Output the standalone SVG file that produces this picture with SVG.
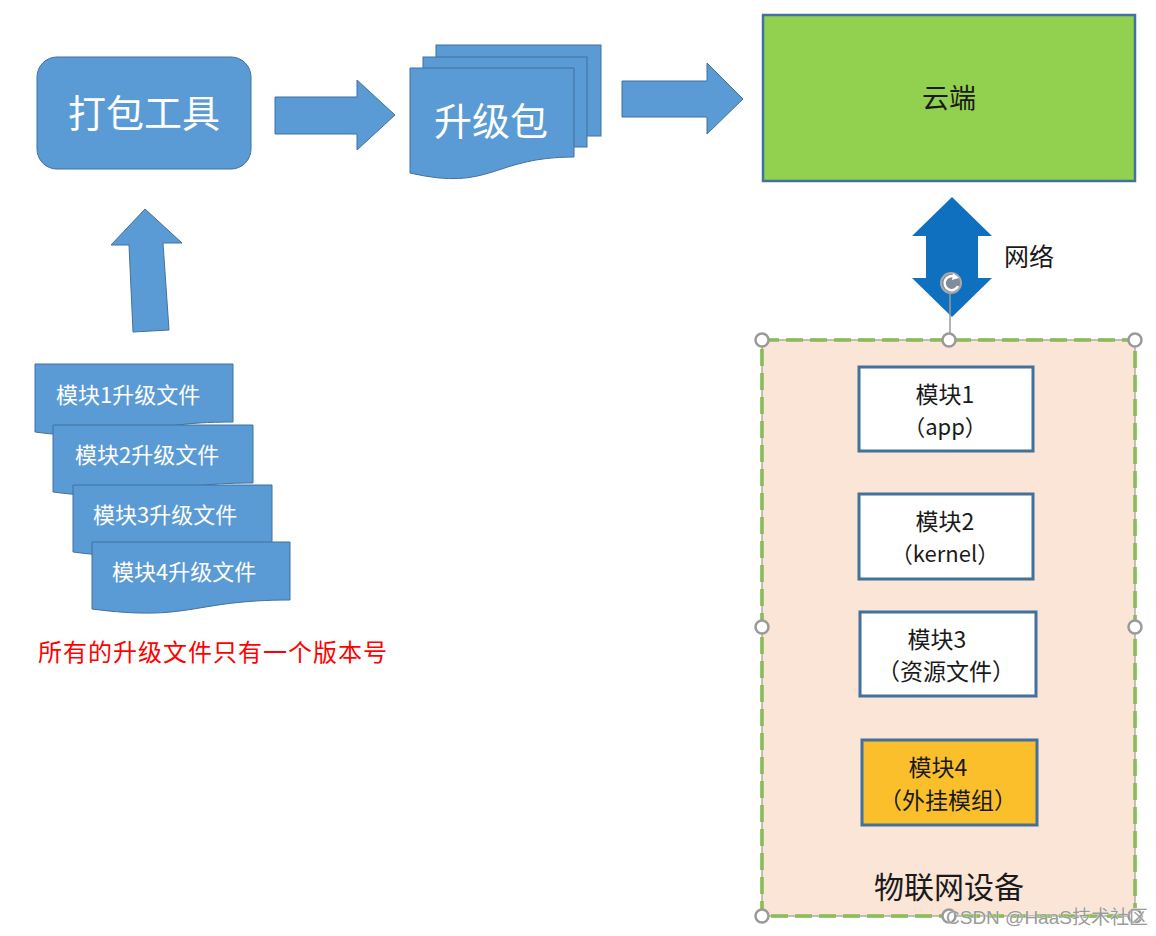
<svg xmlns="http://www.w3.org/2000/svg" width="1156" height="936" viewBox="0 0 1156 936">
<style>
.blue{fill:#5B9BD5;stroke:#41719C;stroke-width:1}
.wt{fill:#FFFFFF;font-family:"Noto Sans CJK SC","Noto Sans",sans-serif}
.bk{fill:#1a1a1a;font-family:"Noto Sans CJK SC","Noto Sans",sans-serif}
.mod{fill:#FFFFFF;stroke:#41719C;stroke-width:3}
.handle{fill:#FFFFFF;stroke:#9A9A9A;stroke-width:2.5}
</style>
<rect width="1156" height="936" fill="#FFFFFF"/>

<g id="connectors">
  <path class="blue" d="M275,97 H357 V80 L395,115 L357,150 V134 H275 Z"/>
  <path class="blue" d="M622,81 H707 V63 L743,99 L707,134 V117 H622 Z"/>
  <path class="blue" d="M133,332 L129,245 L111,245 L145,209 L182,243 L163,243 L169,330 Z"/>
  <path fill="#1070C0" d="M952,197 L992,236 L978,236 L978,278 L992,278 L952,317 L912,278 L926,278 L926,236 L912,236 Z"/>
  <text class="bk" x="1004" y="266" font-size="25">网络</text>
</g>

<g id="tool">
  <rect class="blue" x="37" y="57" width="214" height="112" rx="20"/>
  <text class="wt" x="144" y="127" font-size="38" text-anchor="middle">打包工具</text>
</g>

<g id="package">
  <rect class="blue" x="436" y="45" width="165" height="91"/>
  <rect class="blue" x="423" y="57" width="164" height="90"/>
  <path class="blue" d="M410,68 H574 V157 C492,157 492,192 410,173 Z"/>
  <text class="wt" x="491" y="135" font-size="38" text-anchor="middle">升级包</text>
</g>

<g id="cloud">
  <rect x="763" y="15" width="372" height="166" fill="#92D050" stroke="#41719C" stroke-width="2.5"/>
  <text class="bk" x="949" y="108" font-size="27" text-anchor="middle">云端</text>
</g>

<g id="files">
  <path class="blue" d="M35,364 H233 V422 C134,422 134,445 35,432 Z"/>
  <text class="wt" x="56" y="403" font-size="22">模块1升级文件</text>
  <path class="blue" d="M53,425 H253 V483 C153,483 153,505 53,492 Z"/>
  <text class="wt" x="75" y="463" font-size="22">模块2升级文件</text>
  <path class="blue" d="M73,485 H272 V543 C172,543 172,565 73,552 Z"/>
  <text class="wt" x="93" y="523" font-size="22">模块3升级文件</text>
  <path class="blue" d="M92,542 H290 V600 C191,600 191,622 92,609 Z"/>
  <text class="wt" x="112" y="580" font-size="22">模块4升级文件</text>
</g>

<g id="note">
  <text x="38" y="661" font-size="24" fill="#FF0000" font-family="Noto Sans CJK SC, sans-serif" textLength="349">所有的升级文件只有一个版本号</text>
</g>

<g id="device">
  <rect x="762" y="340" width="373" height="576" fill="#FBE5D6"/>
  <rect x="762" y="340" width="373" height="576" fill="none" stroke="#92D050" stroke-width="4" stroke-dasharray="17 7"/>
  <rect x="762" y="340" width="373" height="576" fill="none" stroke="#999999" stroke-width="1.2"/>
  <text class="bk" x="949" y="898" font-size="30" text-anchor="middle" fill="#333333">物联网设备</text>
</g>

<g id="module1">
  <rect class="mod" x="859" y="367" width="174" height="84"/>
  <text class="bk" x="945" y="403" font-size="23" text-anchor="middle">模块1</text>
  <text class="bk" x="945" y="435" font-size="22" text-anchor="middle">（app）</text>
</g>
<g id="module2">
  <rect class="mod" x="859" y="494" width="174" height="85"/>
  <text class="bk" x="945" y="530" font-size="23" text-anchor="middle">模块2</text>
  <text class="bk" x="945" y="562" font-size="22" text-anchor="middle">（kernel）</text>
</g>
<g id="module3">
  <rect class="mod" x="860" y="612" width="176" height="84"/>
  <text class="bk" x="937" y="648" font-size="23" text-anchor="middle">模块3</text>
  <text class="bk" x="946" y="680" font-size="23" text-anchor="middle">（资源文件）</text>
</g>
<g id="module4">
  <rect x="862" y="740" width="175" height="85" fill="#FBBF2B" stroke="#41719C" stroke-width="3"/>
  <text class="bk" x="938" y="776" font-size="23" text-anchor="middle">模块4</text>
  <text class="bk" x="948" y="809" font-size="23" text-anchor="middle">（外挂模组）</text>
</g>

<g id="selection">
  <line x1="950" y1="294" x2="950" y2="333" stroke="#9A9A9A" stroke-width="1.5"/>
  <circle cx="951" cy="283" r="10" fill="#7F8C99" stroke="#A8A8A8" stroke-width="2"/>
  <path d="M958,286 A7,7 0 1 1 955,277" fill="none" stroke="#FFFFFF" stroke-width="2.5"/>
  <path d="M953,273 L959,278 L952,280 Z" fill="#FFFFFF"/>
  <circle class="handle" cx="762" cy="340" r="6.5"/>
  <circle class="handle" cx="949" cy="340" r="6.5"/>
  <circle class="handle" cx="1135" cy="340" r="6.5"/>
  <circle class="handle" cx="762" cy="627" r="6.5"/>
  <circle class="handle" cx="1135" cy="627" r="6.5"/>
  <circle class="handle" cx="762" cy="916" r="6.5"/>
  <circle class="handle" cx="949" cy="916" r="6.5"/>
  <circle class="handle" cx="1135" cy="916" r="6.5"/>
</g>

<text x="946" y="924" font-size="19" fill="#9A9A9A" stroke="#FFFFFF" stroke-width="0.6" paint-order="stroke" font-family="Liberation Sans, Noto Sans CJK SC, sans-serif">CSDN @HaaS技术社区</text>
</svg>
